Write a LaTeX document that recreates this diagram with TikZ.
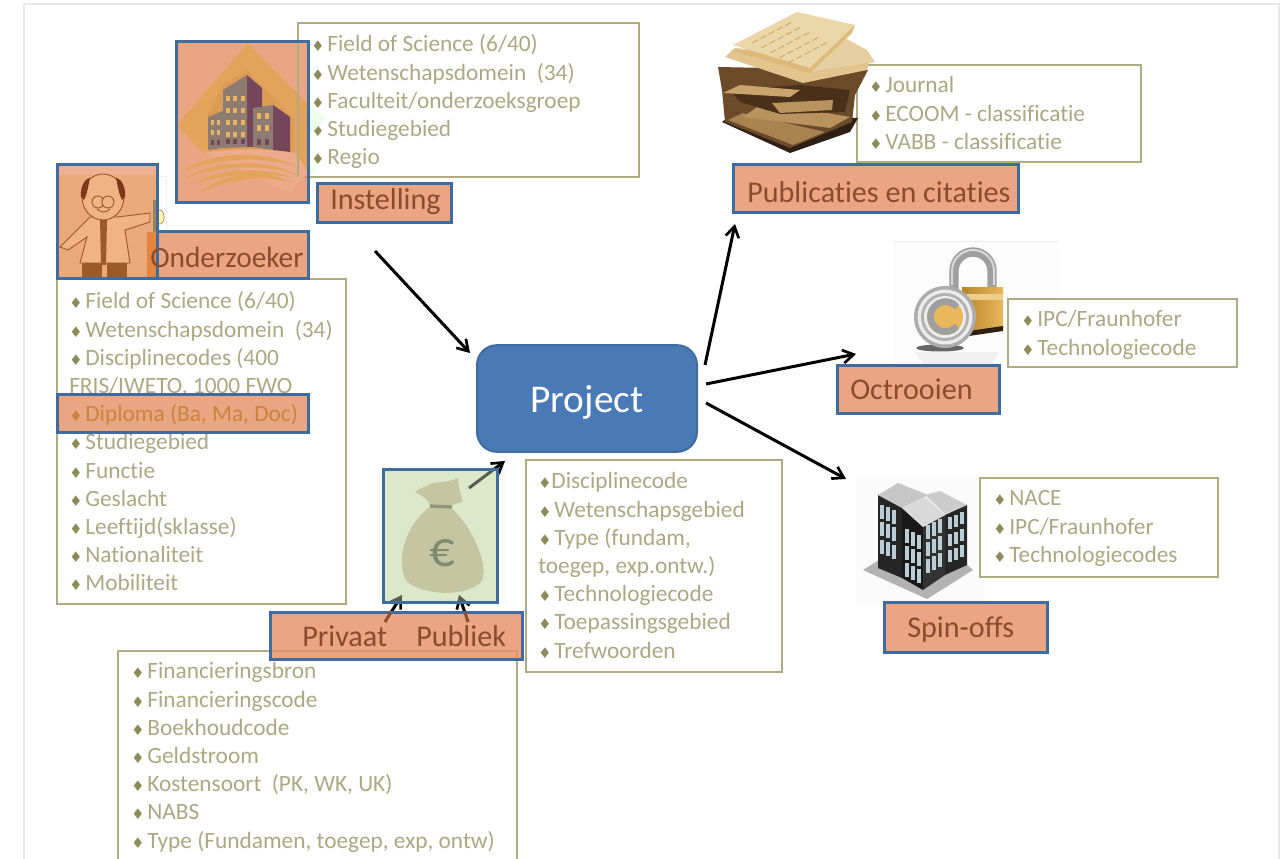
\documentclass[tikz,border=0pt]{standalone}
\usepackage{fontspec}
\setmainfont[Ligatures=NoCommon]{Carlito}
\newfontfamily\symf{DejaVu Sans}
\usetikzlibrary{arrows.meta}
\definecolor{olivebox}{HTML}{B0AB82}
\definecolor{olivetext}{HTML}{ABA883}
\definecolor{olivebul}{HTML}{8F8A5C}
\definecolor{bluebord}{HTML}{3F6C9F}
\definecolor{projfill}{HTML}{4A7AB5}
\definecolor{labfill}{HTML}{E58F63}
\definecolor{labtext}{HTML}{8A4B2E}
\definecolor{amber}{HTML}{E3A35B}
\definecolor{frameg}{HTML}{E8E8E8}
\definecolor{sciback}{HTML}{EBAA7C}
\definecolor{scicoat}{HTML}{EFB384}
\definecolor{scistrip}{HTML}{E5863F}
\definecolor{sciline}{HTML}{9C5A2A}
\definecolor{scidark}{HTML}{7A3A1A}
\definecolor{bldfront}{HTML}{8E7C72}
\definecolor{bldside}{HTML}{75455A}
\definecolor{bldwin}{HTML}{EBB264}
\definecolor{baggreen}{HTML}{DDE8CB}
\definecolor{bagbody}{HTML}{B5B085}
\definecolor{bagtie}{HTML}{63623F}
\definecolor{bageuro}{HTML}{414C35}
\definecolor{dipltext}{HTML}{C9843F}
\definecolor{papA}{HTML}{EBD6A8}
\definecolor{papB}{HTML}{DDBA7A}
\definecolor{papC}{HTML}{E6CFA0}
\definecolor{papD}{HTML}{E2C48F}
\definecolor{papE}{HTML}{6B4A2A}
\definecolor{papF}{HTML}{C9A46C}
\definecolor{papG}{HTML}{4A3018}
\definecolor{papH}{HTML}{B8935E}
\definecolor{papI}{HTML}{A8834F}
\definecolor{papJ}{HTML}{2E2014}
\definecolor{goldL}{HTML}{E8B85A}
\definecolor{goldD}{HTML}{B98428}
\definecolor{winblue}{HTML}{B9CDD6}
\newcommand{\bul}{{\symf\fontsize{11}{10}\selectfont\color{olivebul}♦}\hspace{2.2pt}}
\newcommand{\lab}[7]{\draw[labelbox] (#2,#3) rectangle (#4,#5);
 \node[labeltext] (#1) at #6 {#7};}
\tikzset{
 listbox/.style={draw=olivebox,line width=1.5pt,fill=white},
 listtext/.style={anchor=north west,inner sep=0pt,align=left,text=olivetext,font=\fontsize{17.5}{21.15}\selectfont},
 labelbox/.style={draw=bluebord,line width=2.25pt,fill=labfill,fill opacity=.8,draw opacity=1},
 labeltext/.style={anchor=base west,inner sep=0pt,text=labtext,font=\fontsize{22.6}{24}\selectfont},
 framebox/.style={draw=bluebord,line width=2.25pt},
 arrowline/.style={draw=black,line width=2.25pt,-{Straight Barb[length=8pt,width=10pt,line width=2pt]}},
}
\begin{document}
\begin{tikzpicture}[x=.75pt,y=-.75pt]
\useasboundingbox (0,0) rectangle (1288,859);
\fill[white] (0,0) rectangle (1288,859);
\draw[frameg,line width=1.8pt] (24,859) -- (24,4) -- (1279,4) -- (1279,859);

% faint picture backgrounds
\fill[black!1] (893,241) rectangle (1058,367);
\draw[black!8,line width=.5pt] (893,241) -- (1058,241);
\fill[black!1.5] (856,477) rectangle (985,606);

% list boxes
\draw[listbox] (298,23) rectangle (639,177);
\node[listtext] (t1) at (311,34.5) {\bul Field of Science (6/40)\\\bul Wetenschapsdomein\ \ (34)\\\bul Faculteit/onderzoeksgroep\\\bul Studiegebied\\\bul Regio};

\draw[listbox] (57,279) rectangle (346,604);
\node[listtext] (t2) at (69,291.5) {\bul Field of Science (6/40)\\\bul Wetenschapsdomein\ \ (34)\\\bul Disciplinecodes (400\\FRIS/IWETO, 1000 FWO\\\strut\\\bul Studiegebied\\\bul Functie\\\bul Geslacht\\\bul Leeftijd(sklasse)\\\bul Nationaliteit\\\bul Mobiliteit};

\draw[listbox] (118,859) -- (118,651) -- (517,651) -- (517,859);
\node[listtext] (t3) at (131,662.5) {\bul Financieringsbron\\\bul Financieringscode\\\bul Boekhoudcode\\\bul Geldstroom\\\bul Kostensoort\ \ (PK, WK, UK)\\\bul NABS\\\bul Type (Fundamen, toegep, exp, ontw)};

\draw[listbox] (526,460) rectangle (782,672);
\node[listtext] (t4) at (538,472.5) {{\symf\fontsize{11}{10}\selectfont\color{olivebul}♦}Disciplinecode\\\bul Wetenschapsgebied\\\bul Type (fundam,\\toegep, exp.ontw.)\\\bul Technologiecode\\\bul Toepassingsgebied\\\bul Trefwoorden};

\draw[listbox] (857,65) rectangle (1141,162);
\node[listtext] (t5) at (869,76.5) {\bul Journal\\\bul ECOOM - classificatie\\\bul VABB - classificatie};

\draw[listbox] (1008,299) rectangle (1237,367);
\node[listtext] (t6) at (1021,310.5) {\bul IPC/Fraunhofer\\\bul Technologiecode};

\draw[listbox] (980,478) rectangle (1218,577);
\node[listtext] (t7) at (993,490.5) {\bul NACE\\\bul IPC/Fraunhofer\\\bul Technologiecodes};

% ---- building picture (Instelling)
\fill[labfill,fill opacity=.8] (176,42) rectangle (308,203);
\fill[amber] (248,43) -- (177,125) -- (203,153) -- (290,193) -- (308,173) -- (308,105) -- cycle;
\fill[black!5!green!8!white] (308,105) -- (326,118) -- (308,137) -- cycle;
\fill[black!5!green!8!white] (308,163) -- (316,170) -- (308,177) -- cycle;
\fill[amber!80!brown] (223,85) -- (247,70) -- (268,92) -- (295,120) -- (293,155) -- (210,150) -- (208,115) -- cycle;
\fill[labfill!75!white] (203,153) .. controls (230,148) and (270,148) .. (296,153) -- (308,173) -- (290,193) -- cycle;
\fill[amber] (181,172) .. controls (215,150) and (265,150) .. (301,168) .. controls (265,155) and (215,158) .. (181,172);
\fill[amber] (186,178) .. controls (215,160) and (265,158) .. (298,175) .. controls (265,163) and (215,166) .. (186,178);
\fill[amber] (190,185) .. controls (220,168) and (262,166) .. (294,178) .. controls (262,171) and (220,175) .. (190,185);
\fill[amber] (200,193) .. controls (225,172) and (265,168) .. (290,182) .. controls (260,174) and (225,180) .. (200,193);
\fill[bldside] (247,75) -- (262,88) -- (262,147) -- (247,147) -- cycle;
\fill[bldside] (273,105) -- (290,117) -- (290,152) -- (273,150) -- cycle;
\fill[bldfront] (223,90) -- (247,75) -- (247,147) -- (223,148) -- cycle;
\fill[bldfront] (253,108) -- (273,105) -- (273,150) -- (253,147) -- cycle;
\fill[bldfront] (208,117) -- (223,111) -- (223,148) -- (208,150) -- cycle;
\foreach \xx in {226,233,241}{\foreach \yy in {96,108,120,132}{\fill[bldwin] (\xx,\yy) rectangle ++(3.5,5.5);}\fill[bldside] (\xx,139) rectangle ++(3.5,5);}
\foreach \xx in {257,265}{\foreach \yy in {113,125}{\fill[bldwin] (\xx,\yy) rectangle ++(4,6);}\fill[bldside] (\xx,139) rectangle ++(4,6);}
\foreach \xx in {211,217}{\foreach \yy in {120,130}{\fill[bldwin] (\xx,\yy) rectangle ++(3,5);}\fill[bldside] (\xx,140) rectangle ++(3,5);}
\draw[olivebox,line width=1pt] (298,42) -- (298,177);
\node[framebox,inner sep=0pt,minimum width=132pt*.75,minimum height=161pt*.75] (instpic) at (242,122.5) {};

% ---- scientist picture (Onderzoeker)
\draw[black!6,line width=.4pt] (157,176) rectangle (166,235);
\fill[sciback] (57,165) rectangle (157,279);
\fill[labfill!70!white] (57,165) rectangle (157,175);
\fill[scistrip] (147,232) rectangle (157,279);
\begin{scope}[line width=.7pt,draw=sciline]
\filldraw[fill=scicoat] (90,217) -- (117,217) -- (150,213) -- (150,222) -- (125,230) -- (130,263) -- (80,263) -- (87,237) -- (68,250) -- (60,247) -- cycle;
\fill[sciline] (100,219) -- (107,219) -- (106,265) -- (101,265) -- cycle;
\fill[sciline] (82,263) rectangle (102,278);
\fill[sciline] (107,263) rectangle (127,278);
\filldraw[fill=scicoat] (103,197) ellipse (21 and 23);
\fill[scidark] (81,197) .. controls (80,185) and (86,178) .. (90,178) .. controls (88,186) and (88,192) .. (84,200) -- cycle;
\fill[scidark] (125,197) .. controls (126,185) and (120,178) .. (116,178) .. controls (118,186) and (118,192) .. (122,200) -- cycle;
\draw[fill=scicoat] (98,202) circle (6);
\draw[fill=scicoat] (108,202) circle (6);
\draw (97,209) .. controls (101,213) and (106,213) .. (110,209);
\end{scope}
\draw[brown!50!gray,line width=3pt] (155,200) -- (155,232);
\fill[yellow!35!white,draw=brown!40!gray,line width=.5pt] (160,217) ellipse (4 and 7);
\draw[framebox] (57,165) rectangle (157,279);

% ---- money bag
\fill[black!1] (376,466) rectangle (507,606);
\fill[baggreen] (383,469) rectangle (497,602);
\fill[bagbody] (431,506) .. controls (398,530) and (396,575) .. (410,584) .. controls (430,596) and (465,596) .. (480,583) .. controls (492,570) and (472,525) .. (450,507) -- cycle;
\fill[bagbody] (430,505) .. controls (428,498) and (420,495) .. (415,492) .. controls (420,487) and (428,487) .. (432,483) .. controls (440,482) and (450,482) .. (458,478) .. controls (458,488) and (462,495) .. (462,502) .. controls (458,503) and (453,504) .. (450,507) -- cycle;
\draw[bagtie,line width=2.5pt] (430,506) -- (452,507);
\node[inner sep=0pt,text=bageuro,font=\fontsize{38}{38}\selectfont] (euro) at (442,553) {€};

% arrows that lie under the bag's veil and the label
\coordinate (a5) at (469,488);
\coordinate (a5e) at (505,461);
\coordinate (a6) at (385,622);
\coordinate (a6b) at (391,612);
\coordinate (a6e) at (402,595);
\coordinate (a7) at (468,622);
\coordinate (a7b) at (465,612);
\coordinate (a7e) at (459,595);
\draw[arrowline] (a5) -- (a5e);
\draw[arrowline] (a6) -- (a6e);
\draw[arrowline] (a7) -- (a7e);
\fill[baggreen,fill opacity=.4] (383,469) rectangle (497,602);
\node[framebox,inner sep=0pt,minimum width=114pt*.75,minimum height=133pt*.75] (bagpic) at (440,535.5) {};

% ---- paper stack
\fill[papJ] (722,122) -- (790,153) -- (850,132) -- (858,118) -- (735,112) -- cycle;
\fill[papE] (718,67) -- (868,70) -- (855,95) -- (852,122) -- (790,148) -- (725,122) -- (722,90) -- cycle;
\fill[papI] (728,120) -- (793,145) -- (825,132) -- (743,113) -- cycle;
\fill[papH] (743,117) -- (830,128) -- (850,117) -- (827,113) -- (760,105) -- cycle;
\fill[papG] (740,102) -- (730,90) -- (800,85) -- (850,90) -- (845,112) -- (780,114) -- cycle;
\fill[papH] (772,103) -- (833,100) -- (832,110) -- (780,113) -- cycle;
\fill[papF] (723,93) -- (790,97) -- (800,90) -- (740,85) -- cycle;
\fill[papD] (725,57) -- (803,83) -- (867,70) -- (870,60) -- (735,48) -- cycle;
\fill[papB] (730,50) -- (810,73) -- (875,62) -- (820,55) -- cycle;
\fill[papC] (820,62) -- (843,37) -- (867,50) -- (875,62) -- (812,72) -- cycle;
\fill[papA] (733,45) -- (797,12) -- (855,25) -- (810,68) -- cycle;
\fill[papB] (810,68) -- (855,25) -- (852,33) -- (812,71) -- cycle;
\foreach \ii in {0,1,2,3,4}{\draw[papB!70!brown,line width=.8pt,dash pattern=on 5pt off 2pt] (752+\ii*9,43+\ii*5) -- (792+\ii*9,22+\ii*5);}

% ---- lock
\fill[black!6] (915,352) -- (1000,352) -- (990,366) -- (925,366) -- cycle;
\draw[gray!75,line width=7pt] (954,292) -- (954,271) arc[start angle=180,end angle=360,radius=19] -- (992,292);
\draw[white!70!gray,line width=1.5pt] (952,285) -- (952,271) arc[start angle=180,end angle=360,radius=21] -- (994,285);
\shade[left color=goldD,right color=goldL] (962,287) -- (1003,287) -- (1003,328) -- (962,334) -- cycle;
\fill[goldL!70!white] (962,294) rectangle (1003,300);
\fill[black!75!brown] (962,332) -- (1003,326) -- (1003,331) -- (962,337) -- cycle;
\fill[black!60] (940,348) ellipse (24 and 3.5);
\fill[gray!65] (945,317) circle (31);
\fill[white!85!gray] (945,317) circle (27.5);
\fill[gray!60] (945,317) circle (24);
\fill[white!85!gray] (945,317) circle (21);
\fill[goldL] (945,317) circle (18);
\draw[gray!75,line width=5pt] (957,307) arc[start angle=-40,end angle=-320,radius=15];

% ---- office blocks
\fill[gray!60] (863,570) -- (927,599) -- (973,570) -- (927,530) -- cycle;
\fill[black!85] (878,495) -- (902,507) -- (902,578) -- (878,568) -- cycle;
\fill[gray!45] (878,495) -- (898,483) -- (928,495) -- (902,508) -- cycle;
\fill[black!85] (945,515) -- (967,505) -- (967,565) -- (945,575) -- cycle;
\fill[gray!40] (925,495) -- (940,491) -- (967,505) -- (945,514) -- cycle;
\fill[black!90] (902,508) -- (923,527) -- (923,590) -- (902,578) -- cycle;
\fill[black!80] (923,527) -- (945,515) -- (945,575) -- (923,590) -- cycle;
\fill[gray!30] (902,508) -- (925,497) -- (945,515) -- (923,527) -- cycle;
\foreach \xx in {880,886,892}{\foreach \yy in {505,522,540}{\fill[winblue] (\xx,\yy+\xx*.4-352) rectangle ++(4,14);}}
\foreach \xx in {905,911,917}{\foreach \yy in {528,545,562}{\fill[winblue] (\xx,\yy+\xx*.5-452) rectangle ++(4,14);}}
\foreach \xx in {926,932,938}{\foreach \yy in {530,547,564}{\fill[winblue] (\xx,\yy-\xx*.5+458) rectangle ++(4,14);}}
\foreach \xx in {948,954,960}{\foreach \yy in {520,537,553}{\fill[winblue] (\xx,\yy-\xx*.45+424) rectangle ++(4,12);}}

% ---- labels
\lab{linst}{317}{184}{451}{223}{(330,210)}{Instelling}
\fill[labfill,fill opacity=.8] (157,232) rectangle (308,279);
\draw[framebox] (157,232) rectangle (308,279);
\node[labeltext,font=\fontsize{22}{24}\selectfont] (lond) at (150,267.5) {Onderzoeker};
\draw[labelbox] (57,394) rectangle (308,432);
\node[listtext,text=dipltext] (t2d) at (69,404.3) {{\symf\fontsize{11}{10}\selectfont ♦}\hspace{2.2pt}Diploma (Ba, Ma, Doc)};
\lab{lpub}{733}{165}{1018}{213}{(747,203)}{Publicaties en citaties}
\lab{loct}{837}{365}{999}{413}{(850,399)}{Octrooien}
\lab{lspin}{884}{602}{1047}{652}{(907,637)}{Spin-offs}
\draw[labelbox] (270,612) rectangle (522,659);
\draw[labtext,line width=2pt] (a6) -- (a6b);
\draw[labtext,line width=2pt] (a7) -- (a7b);
\node[labeltext] (lpriv) at (302,646) {Privaat};
\node[labeltext] (lpubl) at (416,646) {Publiek};

% ---- project
\node[draw=bluebord,line width=1.5pt,fill=projfill,rounded corners=15pt,inner sep=0pt,minimum width=165pt,minimum height=80pt] (project) at (587,398.5) {};
\node[inner sep=0pt,anchor=base,text=white,font=\fontsize{29.5}{30}\selectfont] (projtext) at (587,412) {Project};

% ---- connectors
\coordinate (a1) at (375,251);
\coordinate (a1e) at (470,353);
\coordinate (a2) at (705,365);
\coordinate (a2e) at (735,224);
\coordinate (a3) at (706,384);
\coordinate (a3e) at (856,354);
\coordinate (a4) at (706,403);
\coordinate (a4e) at (846,479);
\draw[arrowline] (a1) -- (a1e);
\draw[arrowline] (a2) -- (a2e);
\draw[arrowline] (a3) -- (a3e);
\draw[arrowline] (a4) -- (a4e);
\end{tikzpicture}
\end{document}
